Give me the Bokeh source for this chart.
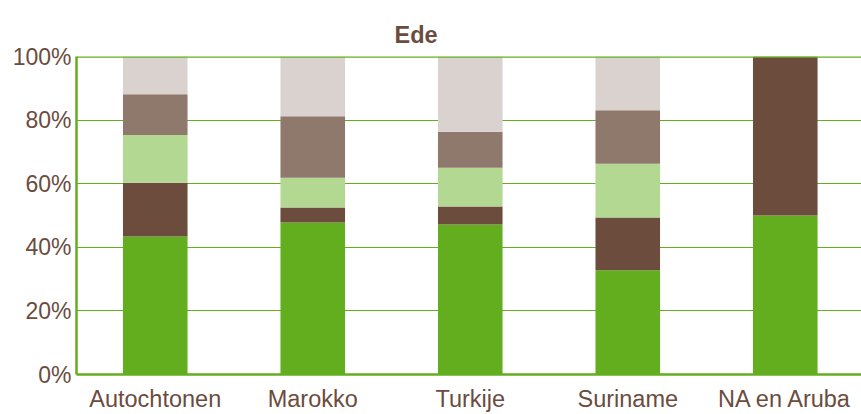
from bokeh.plotting import figure
from bokeh.models import Range1d, FixedTicker, Span, ColumnDataSource
from bokeh.embed import file_html
from bokeh.resources import INLINE

categories = ["Autochtonen", "Marokko", "Turkije", "Suriname", "NA en Aruba"]
s1 = [43.4, 47.8, 47.2, 32.8, 50.0]
s2 = [16.9, 4.7, 5.6, 16.6, 50.0]
s3 = [15.0, 9.4, 12.2, 16.9, 0.0]
s4 = [12.8, 19.3, 11.3, 16.8, 0.0]
s5 = [11.9, 18.8, 23.7, 16.9, 0.0]
y_ticks = [0, 20, 40, 60, 80, 100]
y_labels = ["0%", "20%", "40%", "60%", "80%", "100%"]

GREEN = "#63ae1f"
BROWN = "#6b4c3d"
LGREEN = "#b2d891"
GBROWN = "#8f786c"
LGREY = "#dad2cf"
TEXT = "#6b4c3d"
FONT = "Liberation Sans"

xs = list(range(len(categories)))
source = ColumnDataSource(dict(x=xs, s1=s1, s2=s2, s3=s3, s4=s4, s5=s5))

p = figure(width=861, height=414, output_backend="svg", toolbar_location=None,
           x_range=Range1d(-0.5, 4.484), y_range=Range1d(0, 100),
           min_border_left=76, min_border_right=0, min_border_top=56, min_border_bottom=38)

p.vbar_stack(["s1", "s2", "s3", "s4", "s5"], x="x", width=0.41, source=source,
             color=[GREEN, BROWN, LGREEN, GBROWN, LGREY], line_width=0)

p.title.text = "Ede"
p.title.text_font = FONT
p.title.text_font_size = "23.5px"
p.title.text_font_style = "bold"
p.title.text_color = TEXT
p.title.align = "left"
p.title.offset = 318
p.title.standoff = 17

p.outline_line_color = None
p.background_fill_color = "white"
p.border_fill_color = "white"

p.xgrid.grid_line_color = None
p.ygrid.grid_line_color = GREEN
p.ygrid.grid_line_width = 1
p.ygrid.ticker = FixedTicker(ticks=y_ticks)

p.yaxis.ticker = FixedTicker(ticks=y_ticks)
p.yaxis.major_label_overrides = {t: l for t, l in zip(y_ticks, y_labels)}
p.yaxis.axis_line_color = GREEN
p.yaxis.axis_line_width = 2.5
p.yaxis.major_tick_line_color = None
p.yaxis.minor_tick_line_color = None
p.yaxis.major_tick_out = 0
p.yaxis.major_tick_in = 0
p.yaxis.major_label_standoff = 5
p.yaxis.major_label_text_font = FONT
p.yaxis.major_label_text_font_size = "23px"
p.yaxis.major_label_text_color = TEXT

p.xaxis.ticker = FixedTicker(ticks=xs)
p.xaxis.major_label_overrides = {i: c for i, c in zip(xs, categories)}
p.xaxis.axis_line_color = GREEN
p.xaxis.axis_line_width = 2.5
p.xaxis.major_tick_line_color = None
p.xaxis.minor_tick_line_color = None
p.xaxis.major_tick_out = 0
p.xaxis.major_tick_in = 0
p.xaxis.major_label_standoff = 11
p.xaxis.major_label_text_font = FONT
p.xaxis.major_label_text_font_size = "23.5px"
p.xaxis.major_label_text_color = TEXT

top = Span(location=100, dimension="width", line_color=GREEN, line_width=2.5, level="overlay")
p.add_layout(top)

open("out.html", "w").write(file_html(p, INLINE))
